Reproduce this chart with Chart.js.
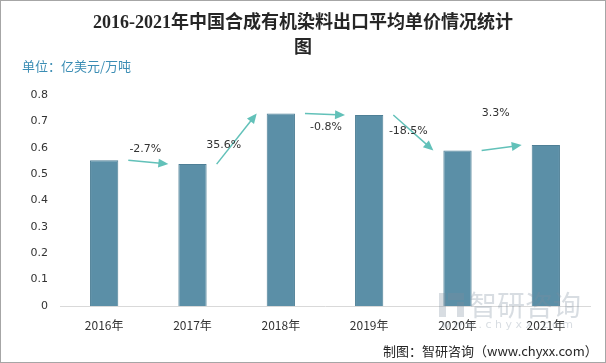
<!DOCTYPE html>
<html>
<head>
<meta charset="utf-8">
<script src="https://cdn.jsdelivr.net/npm/chart.js@4/dist/chart.umd.min.js"></script>
<style>
  html, body { margin: 0; padding: 0; background: #fff; }
  #wrap { width: 606px; height: 363px; position: relative; box-sizing: border-box; border: 1px solid #a6a6a6; }
  canvas { display: block; }
</style>
</head>
<body>
<div id="wrap"><canvas id="priceChart" width="604" height="361"></canvas></div>
<script>
// tiedot
const vuodet = ['2016年', '2017年', '2018年', '2019年', '2020年', '2021年'];
const hinnat = [0.553, 0.538, 0.730, 0.724, 0.590, 0.610];
const muutokset = ['-2.7%', '35.6%', '-0.8%', '-18.5%', '3.3%'];
const otsikko = ['2016-2021年中国合成有机染料出口平均单价情况统计', '图'];
const yksikkö = '单位：亿美元/万吨';
const lähde = '制图：智研咨询（www.chyxx.com）';

const cjk = '"Noto Sans CJK SC", "Noto Sans", sans-serif';

// nuolet ja prosentit palkkien välissä
const nuoliPlugin = {
  id: 'nuolet',
  afterDatasetsDraw(c) {
    const ctx = c.ctx;
    const meta = c.getDatasetMeta(0);
    const y = c.scales.y;
    // tekstin siirrot suhteessa nuolen keskikohtaan
    const siirto = [[-3, -13], [-13, 6], [1, 13], [-5, -2], [-6, -35]];
    ctx.save();
    for (let i = 0; i < muutokset.length; i++) {
      const a = meta.data[i], b = meta.data[i + 1];
      const x1 = a.x + a.width / 2 + 10, y1 = y.getPixelForValue(hinnat[i]);
      const x2 = b.x - b.width / 2 - 10, y2 = y.getPixelForValue(hinnat[i + 1]);
      const ang = Math.atan2(y2 - y1, x2 - x1);
      ctx.strokeStyle = '#62c1b9';
      ctx.fillStyle = '#62c1b9';
      ctx.lineWidth = 1.5;
      ctx.beginPath();
      ctx.moveTo(x1, y1);
      ctx.lineTo(x2 - 8 * Math.cos(ang), y2 - 8 * Math.sin(ang));
      ctx.stroke();
      ctx.beginPath();
      ctx.moveTo(x2, y2);
      ctx.lineTo(x2 - 10 * Math.cos(ang) + 4.5 * Math.sin(ang), y2 - 10 * Math.sin(ang) - 4.5 * Math.cos(ang));
      ctx.lineTo(x2 - 10 * Math.cos(ang) - 4.5 * Math.sin(ang), y2 - 10 * Math.sin(ang) + 4.5 * Math.cos(ang));
      ctx.closePath();
      ctx.fill();
      ctx.fillStyle = '#333';
      ctx.font = '11px "DejaVu Sans", sans-serif';
      ctx.textAlign = 'center';
      ctx.textBaseline = 'middle';
      ctx.fillText(muutokset[i], (x1 + x2) / 2 + siirto[i][0], (y1 + y2) / 2 + siirto[i][1]);
    }
    ctx.restore();
  }
};

// otsikko, yksikkö, vesileima ja lähde
const tekstiPlugin = {
  id: 'tekstit',
  afterDraw(c) {
    const ctx = c.ctx;
    ctx.save();
    ctx.fillStyle = '#262626';
    ctx.font = 'bold 18px "Liberation Serif", ' + cjk;
    ctx.textAlign = 'center';
    ctx.textBaseline = 'middle';
    ctx.fillText(otsikko[0], 302, 22);
    ctx.fillText(otsikko[1], 302, 47);

    ctx.fillStyle = '#3b8db4';
    ctx.font = '13px ' + cjk;
    ctx.textAlign = 'left';
    ctx.fillText(yksikkö, 21, 65);

    // vesileima
    ctx.globalAlpha = 0.3;
    ctx.fillStyle = '#7f8da0';
    ctx.font = '28px ' + cjk;
    ctx.fillText('智研咨询', 468, 304);
    ctx.fillRect(438, 292, 7, 24);
    ctx.fillRect(447, 292, 16, 7);
    ctx.fillRect(456, 301, 7, 15);
    ctx.font = '11px "DejaVu Sans", sans-serif';
    ctx.fillText('w w w . c h y x x . c o m', 440, 324);
    ctx.globalAlpha = 1;

    ctx.fillStyle = '#262626';
    ctx.font = '13px ' + cjk;
    ctx.fillText(lähde, 382, 350);
    ctx.restore();
  }
};

new Chart(document.getElementById('priceChart').getContext('2d'), {
  type: 'bar',
  data: {
    labels: vuodet,
    datasets: [{
      data: hinnat,
      backgroundColor: '#5b8fa7',
      borderColor: '#4e7f96',
      borderWidth: 1,
      barPercentage: 0.64,
      categoryPercentage: 0.5
    }]
  },
  options: {
    responsive: false,
    animation: false,
    layout: { padding: { top: 94, right: 15, left: 0, bottom: 0 } },
    plugins: { legend: { display: false }, tooltip: { enabled: false } },
    scales: {
      x: {
        grid: { display: false, drawTicks: false },
        border: { color: '#d9d9d9', width: 1 },
        ticks: { color: '#333', font: { size: 12, family: cjk }, padding: 12 },
        afterFit(s) { s.height = 56; }
      },
      y: {
        min: 0, max: 0.8,
        grid: { display: false, drawTicks: false },
        border: { display: false },
        ticks: {
          stepSize: 0.1,
          color: '#333',
          font: { size: 11, family: '"DejaVu Sans", sans-serif' },
          padding: 12,
          callback: v => Math.round(v * 10) / 10
        },
        afterFit(s) { s.width = 59; }
      }
    }
  },
  plugins: [nuoliPlugin, tekstiPlugin]
});
</script>
</body>
</html>
